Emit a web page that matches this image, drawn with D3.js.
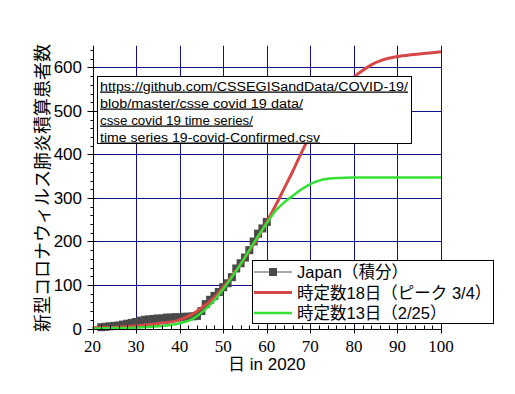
<!DOCTYPE html>
<html>
<head>
<meta charset="utf-8">
<script src="https://cdn.jsdelivr.net/npm/d3@7"></script>
<style>
  body { margin: 0; background: #fff; }
  text { font-family: "Liberation Sans", Arial, sans-serif; }
  .jp { font-family: "Noto Sans CJK JP", sans-serif; }
  .mix { font-family: "Liberation Sans", "Noto Sans CJK JP", sans-serif; }
</style>
</head>
<body>
<svg id="chart" width="515" height="394"></svg>
<script>
// Japan cumulative cases (day of year 2020)
const japanDays = [22,23,24,25,26,27,28,29,30,31,32,33,34,35,36,37,38,39,40,41,42,43,44,45,46,47,48,49,50,51,52,53,54,55,56,57,58,59,60];
const japanCases = [3,4,5,6,7,9,11,13,15,18,20,21,22,23,23,25,25,26,26,27,27,28,29,40,56,66,75,84,95,104,118,138,150,163,180,200,218,230,245];

// fit curve, time constant 18 days (peak 3/4)
const fit18Days = [20,25,30,35,40,43,46,48,50,52,54,56,58,60,62,64,66,68,70,72,74,76,78,80,82,84,86,88,90,93,96,100];
const fit18Values = [2,3,6,11,20,33,55,72,95,120,148,178,210,245,282,322,362,405,445,482,512,538,560,578,593,606,615,621,625,629,632,636];

// fit curve, time constant 13 days (2/25)
const fit13Days = [20,25,30,35,40,43,46,48,50,52,54,56,58,60,62,64,66,68,70,72,74,77,80,85,90,100];
const fit13Values = [0,1,2,5,12,22,45,65,90,118,148,180,212,242,270,290,305,320,332,340,344,346,347,347,347,347];

const xTicks = [20,30,40,50,60,70,80,90,100];
const yTicks = [0,100,200,300,400,500,600];
const legendLabels = ["Japan（積分）", "時定数18日（ピーク 3/4）", "時定数13日（2/25）"];
const sourceLines = [
  "https://github.com/CSSEGISandData/COVID-19/",
  "blob/master/csse covid 19 data/",
  "csse covid 19 time series/",
  "time series 19-covid-Confirmed.csv"
];
const sourceWidths = [308, 203, 153, 220];
const yTitle = "新型コロナウィルス肺炎積算患者数";
const xTitle = "日 in 2020";

const svg = d3.select("#chart");
svg.append("rect").attr("width", 515).attr("height", 394).attr("fill", "#fff");

const x = d3.scaleLinear().domain([20, 100]).range([92.5, 441]);
const y = d3.scaleLinear().domain([0, 650]).range([328.5, 45.7]);
const px = v => Math.round(x(v)) + 0.5;
const py = v => Math.round(y(v)) + 0.5;

// grid
const grid = svg.append("g").attr("stroke", "#10108a").attr("stroke-width", 1);
grid.selectAll(".gx").data(xTicks.slice(1)).enter().append("line")
  .attr("x1", px).attr("x2", px).attr("y1", y(650)).attr("y2", y(0));
grid.selectAll(".gy").data(yTicks.slice(1)).enter().append("line")
  .attr("x1", x(20)).attr("x2", x(100)).attr("y1", py).attr("y2", py);

// Japan series
const japan = japanDays.map((d, i) => ({ d, v: japanCases[i] }));
const line = d3.line().x(p => x(p.d)).y(p => y(p.v));
svg.append("path").datum(japan).attr("d", line)
  .attr("fill", "none").attr("stroke", "#555").attr("stroke-width", 1);
svg.selectAll(".sq").data(japan).enter().append("rect")
  .attr("x", p => x(p.d) - 4).attr("y", p => y(p.v) - 4)
  .attr("width", 8).attr("height", 8).attr("fill", "#4a4a4a");

// fitted curves
const curve = d3.line().curve(d3.curveMonotoneX).x(p => x(p.d)).y(p => y(p.v));
svg.append("path").datum(fit18Days.map((d, i) => ({ d, v: fit18Values[i] })))
  .attr("d", curve).attr("fill", "none").attr("stroke", "#d64848").attr("stroke-width", 3);
svg.append("path").datum(fit13Days.map((d, i) => ({ d, v: fit13Values[i] })))
  .attr("d", curve).attr("fill", "none").attr("stroke", "#33e033").attr("stroke-width", 2.5);

// axes
const ax = svg.append("g").attr("stroke", "#000").attr("stroke-width", 1);
ax.append("line").attr("x1", px(20)).attr("x2", px(20)).attr("y1", y(650)).attr("y2", py(0));
ax.append("line").attr("x1", x(20)).attr("x2", x(100) + 1).attr("y1", py(0)).attr("y2", py(0));
ax.selectAll(".ymin").data(d3.range(0, 651, 20)).enter().append("line")
  .attr("x1", px(20) - 3).attr("x2", px(20)).attr("y1", py).attr("y2", py);
ax.selectAll(".ymaj").data(yTicks).enter().append("line")
  .attr("x1", px(20) - 6).attr("x2", px(20) + 3).attr("y1", py).attr("y2", py);
ax.selectAll(".xmin").data(d3.range(20, 101, 2)).enter().append("line")
  .attr("x1", px).attr("x2", px).attr("y1", py(0) - 4).attr("y2", py(0));
ax.selectAll(".xmaj").data(xTicks).enter().append("line")
  .attr("x1", px).attr("x2", px).attr("y1", py(0) - 4).attr("y2", py(0) + 4);

svg.selectAll(".ylab").data(yTicks).enter().append("text")
  .attr("x", 82).attr("y", v => y(v) + 6)
  .attr("text-anchor", "end").attr("font-size", 17).text(v => v);
svg.selectAll(".xlab").data(xTicks).enter().append("text")
  .attr("x", x).attr("y", 351.5)
  .attr("text-anchor", "middle").attr("font-size", 17)
  .style("font-family", "'Liberation Serif', serif").text(v => v);

svg.append("text").attr("class", "mix")
  .attr("x", x(60)).attr("y", 369.5).attr("text-anchor", "middle")
  .attr("font-size", 17).text(xTitle);
svg.append("text").attr("class", "jp")
  .attr("transform", "translate(49,188) rotate(-90)")
  .attr("text-anchor", "middle").attr("font-size", 18).text(yTitle);

// source note
svg.append("rect").attr("x", 97.5).attr("y", 76.5).attr("width", 314).attr("height", 67)
  .attr("fill", "#fff").attr("stroke", "#000");
svg.selectAll(".src").data(sourceLines).enter().append("text")
  .attr("x", 100).attr("y", (t, i) => 90.5 + i * 17)
  .attr("font-size", 12.5).attr("text-decoration", "underline").attr("fill", "#000")
  .attr("textLength", (t, i) => sourceWidths[i]).attr("lengthAdjust", "spacingAndGlyphs")
  .text(t => t);

// legend
const lg = svg.append("g");
lg.append("rect").attr("x", 252.5).attr("y", 260.5).attr("width", 241).attr("height", 63)
  .attr("fill", "#fff").attr("stroke", "#000");
const rowY = [272, 292.5, 313];
lg.append("line").attr("x1", 254).attr("x2", 292).attr("y1", rowY[0]).attr("y2", rowY[0])
  .attr("stroke", "#555");
lg.append("rect").attr("x", 269).attr("y", rowY[0] - 4).attr("width", 8).attr("height", 8).attr("fill", "#4a4a4a");
lg.append("line").attr("x1", 254).attr("x2", 292).attr("y1", rowY[1]).attr("y2", rowY[1])
  .attr("stroke", "#d64848").attr("stroke-width", 3);
lg.append("line").attr("x1", 254).attr("x2", 292).attr("y1", rowY[2]).attr("y2", rowY[2])
  .attr("stroke", "#33e033").attr("stroke-width", 2.5);
lg.selectAll(".lt").data(legendLabels).enter().append("text").attr("class", "mix")
  .attr("x", 297).attr("y", (t, i) => rowY[i] + 6)
  .attr("font-size", 16.5).text(t => t);
</script>
</body>
</html>
